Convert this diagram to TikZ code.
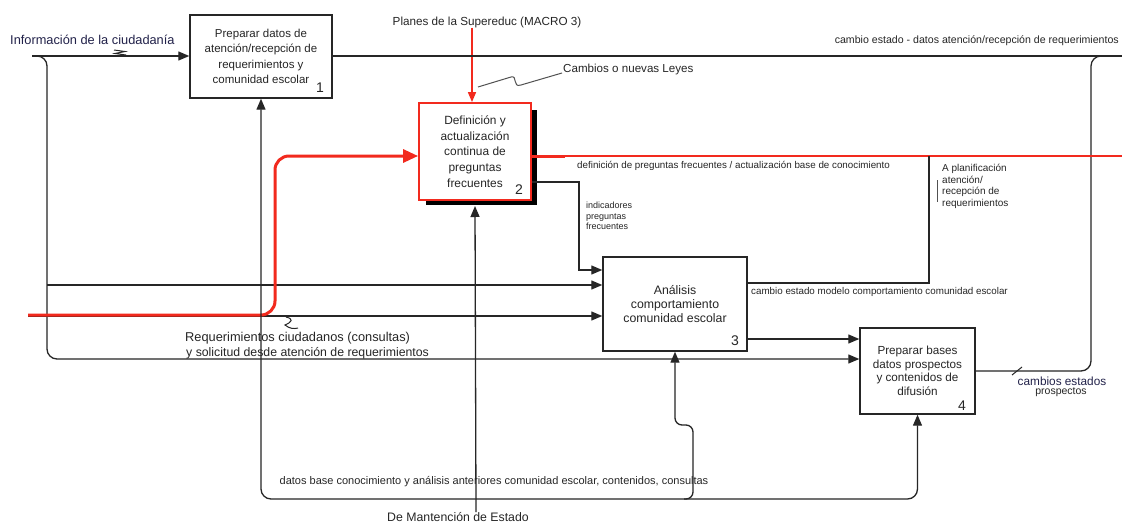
\documentclass[tikz,border=0pt]{standalone}
\usepackage{fontspec}
\setmainfont{Liberation Sans}
\usetikzlibrary{arrows.meta}
\definecolor{ink}{HTML}{262626}
\definecolor{redline}{HTML}{F22A1E}
\definecolor{navy}{HTML}{22224A}
\newcommand{\fs}[2]{\fontsize{#1}{#2}\selectfont}
\tikzset{
  proc/.style={draw=ink, line width=1.4pt, fill=white, align=center, inner sep=0pt, text=ink},
  flow/.style={draw=ink, line width=1.3pt},
  arr/.style={flow, -{Triangle[length=11pt,width=9pt]}},
  redflow/.style={draw=redline, line width=1.6pt},
  lbl/.style={text=ink, inner sep=0pt},
  num/.style={text=ink, inner sep=0pt, font=\fs{14}{14}},
  squig/.style={draw=ink, line width=1pt},
}
\begin{document}
\begin{tikzpicture}[x=1pt,y=-1pt]
\useasboundingbox[fill=white] (0,0) rectangle (1122,522);

% ---- activity boxes ----
\node[proc, minimum width=142pt, minimum height=83pt, font=\fs{11.5}{15.3}] (b1) at (261,56.5)
  {Preparar datos de\\atención/recepción de\\requerimientos y\\comunidad escolar};
\fill[black] (426,110) rectangle (537,205);
\node[proc, draw=redline, line width=1.8pt, minimum width=112pt, minimum height=97pt, font=\fs{11.9}{15.8}] (b2) at (475,151.5)
  {Definición y\\actualización\\continua de\\preguntas\\frecuentes};
\node[proc, minimum width=144pt, minimum height=94pt, font=\fs{12.3}{14}] (b3) at (675,304)
  {Análisis\\comportamiento\\comunidad escolar};
\node[proc, minimum width=115pt, minimum height=86pt, font=\fs{11.7}{13.5}] (b4) at (917.5,371)
  {Preparar bases\\datos prospectos\\y contenidos de\\difusión};

\node[num] (n1) at (320,88) {1};
\node[num] (n2) at (519,190) {2};
\node[num] (n3) at (735,341) {3};
\node[num] (n4) at (962,406) {4};

% ---- free ends of connectors ----
\coordinate (infoS) at (32,56);
\coordinate (infoB) at (40,56);
\coordinate (outE) at (1122,56);
\coordinate (redS) at (28,315);
\coordinate (redE) at (1122,156);
\coordinate (in3a) at (47,285);
\coordinate (in3b) at (28,316);
\coordinate (mecS) at (476,512);
\coordinate (mecJ) at (476,499);

% ---- inputs ----
\draw[arr] (infoS) -- (b1.west |- 0,56);
\draw[arr, rounded corners=10pt] (infoB) -- (47,56) -- (47,359) -- (b4.west |- 0,359);
\draw[arr] (in3a) -- (b3.west |- 0,285);
\draw[arr] (in3b) -- (b3.west |- 0,316);

% ---- controls ----
\node[lbl, font=\fs{11.7}{12}] (planes) at (487,22) {Planes de la Supereduc (MACRO 3)};
\draw[redflow, -{Triangle[length=10pt,width=8pt]}] (planes.south -| 472,0) -- (b2.north -| 472,0);
\draw[redline, line width=3pt, rounded corners=14pt, -{Triangle[length=15pt,width=13pt]}]
  (redS) -- (275,315) -- (275,156) -- (b2.west |- 0,156);
\draw[arr] (b2.east |- 0,182) -- (579,182) -- (579,270) -- (b3.west |- 0,270);

% ---- outputs ----
\draw[flow] (b1.east |- 0,56) -- (outE);
\draw[flow, rounded corners=10pt] (b4.east) -- (1091,371) -- (1091,56) -- (1108,56);
\draw[redflow] (b2.east |- 0,156) -- (redE);
\draw[redline, line width=3pt] (b2.east |- 0,156) -- (565,156);
\draw[flow] (b3.east |- 0,283) -- (929,283) -- (929,156);
\draw[arr] (b3.east |- 0,339) -- (b4.west |- 0,339);

% ---- mechanisms ----
\draw[arr] (mecS) -- (475,206);
\draw[arr, rounded corners=10pt] (mecJ) -- (261,499) -- (b1.south);
\draw[arr, rounded corners=10pt] (mecJ) -- (917.5,499) -- (b4.south);
\draw[arr, rounded corners=7pt] (684,499) -- (693,499) -- (693,425) -- (675,425) -- (b3.south);

% ---- squiggles and ticks ----
\draw[squig] (114,50) -- (125,51.5) -- (115,53.5) -- (126,55);
\draw[squig] (286,317) .. controls (294,319) and (292,322) .. (285,325) .. controls (290,329) and (294,329) .. (298,328);
\draw[squig, draw=ink!80] (478,87) -- (511,77) .. controls (518,75) and (512,88) .. (521,85) -- (562,73);
\draw[squig] (1012,375) -- (1022,367);
\draw[ink!80, line width=0.8pt] (937,180) -- (937,202);

% ---- labels ----
\node[lbl, text=navy, font=\fs{12.8}{13}, anchor=west] (linfo) at (10,40) {Información de la ciudadanía};
\node[lbl, font=\fs{11.6}{12}, anchor=west] (lleyes) at (563,70) {Cambios o nuevas Leyes};
\node[lbl, font=\fs{10.6}{11}, anchor=east] (lout1) at (1119,41) {cambio estado - datos atención/recepción de requerimientos};
\node[lbl, font=\fs{9.8}{10}, anchor=west] (lout2) at (577,166) {definición de preguntas frecuentes / actualización base de conocimiento};
\node[lbl, font=\fs{10}{11.7}, anchor=north west, align=left] (lplan) at (942,164) {A planificación\\atención/\\recepción de\\requerimientos};
\node[lbl, font=\fs{9}{10.5}, anchor=north west, align=left] (lind) at (586,202) {indicadores\\preguntas\\frecuentes};
\node[lbl, font=\fs{9.8}{10}, anchor=west] (lout3) at (751,292) {cambio estado modelo comportamiento comunidad escolar};
\node[lbl, font=\fs{12.8}{13}, anchor=west] (lreq1) at (185,338) {Requerimientos ciudadanos (consultas)};
\node[lbl, font=\fs{12.3}{13}, anchor=west] (lreq2) at (186,353) {y solicitud desde atención de requerimientos};
\node[lbl, text=navy, font=\fs{11.8}{12}] (lpro1) at (1062,381) {cambios estados};
\node[lbl, font=\fs{10.5}{11}] (lpro2) at (1061,392) {prospectos};
\node[lbl, font=\fs{11}{12}] (ldatos) at (494,482) {datos base conocimiento y análisis anteriores comunidad escolar, contenidos, consultas};
\node[lbl, font=\fs{12.3}{13}] (lmant) at (458,517) {De Mantención de Estado};
\end{tikzpicture}
\end{document}
